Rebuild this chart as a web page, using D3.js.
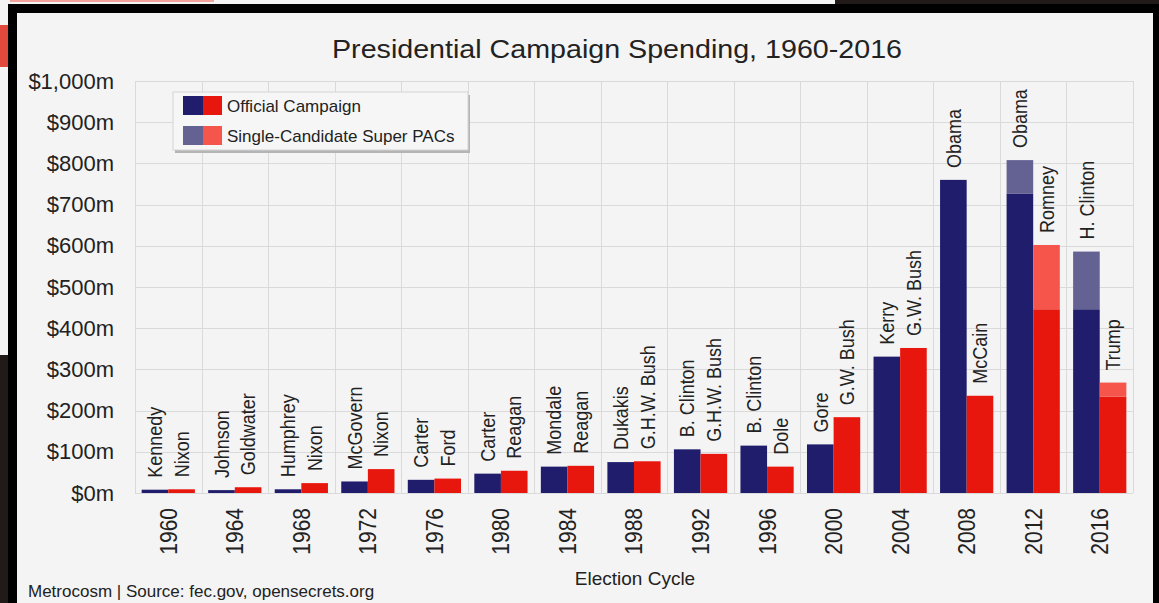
<!DOCTYPE html>
<html lang="en">
<head>
<meta charset="utf-8">
<title>Presidential Campaign Spending, 1960-2016</title>
<script src="https://cdn.jsdelivr.net/npm/d3@7"></script>
<style>
  body { margin: 0; background: #1b1513; }
  svg { display: block; }
  text { font-family: "Liberation Sans", Arial, Helvetica, sans-serif; fill: #222; }
</style>
</head>
<body>
<script>

// election years and candidates (Democrat first, Republican second)
var years = ["1960", "1964", "1968", "1972", "1976", "1980", "1984", "1988",
             "1992", "1996", "2000", "2004", "2008", "2012", "2016"];
var demNames = ["Kennedy", "Johnson", "Humphrey", "McGovern", "Carter", "Carter", "Mondale", "Dukakis",
                "B. Clinton", "B. Clinton", "Gore", "Kerry", "Obama", "Obama", "H. Clinton"];
var repNames = ["Nixon", "Goldwater", "Nixon", "Nixon", "Ford", "Reagan", "Reagan", "G.H.W. Bush",
                "G.H.W. Bush", "Dole", "G.W. Bush", "G.W. Bush", "McCain", "Romney", "Trump"];

// spending in $ millions
var demOfficial = [8, 7, 9, 28, 32, 47, 64, 75, 106, 115, 118, 331, 760, 727, 446];
var demSuperPac = [0, 0, 0, 0, 0, 0, 0, 0, 0, 0, 0, 0, 0, 81, 140];
var repOfficial = [9, 14, 24, 58, 35, 54, 66, 77, 95, 64, 184, 352, 236, 446, 234];
var repSuperPac = [0, 0, 0, 0, 0, 0, 0, 0, 0, 0, 0, 0, 0, 156, 34];

var yTicks = [0, 100, 200, 300, 400, 500, 600, 700, 800, 900, 1000];
var seriesLabels = ["Official Campaign", "Single-Candidate Super PACs"];

var colors = {
  D: { official: "#201e6c", pac: "#646193" },
  R: { official: "#e8170d", pac: "#f5554b" }
};

var w = 1159;
var h = 603;
var plotLeft = 135, plotRight = 1133, plotTop = 81, plotBottom = 493;

var rows = [];
years.forEach(function(y, i) {
  rows.push({ year: y, party: "D", name: demNames[i], official: demOfficial[i], pac: demSuperPac[i] });
  rows.push({ year: y, party: "R", name: repNames[i], official: repOfficial[i], pac: repSuperPac[i] });
});

var svg = d3.select("body").append("svg")
  .attr("width", w)
  .attr("height", h);

// surroundings of the photographed screen
svg.append("rect").attr("x", 0).attr("y", 0).attr("width", w).attr("height", h).attr("fill", "#221a18");
svg.append("rect").attr("x", 0).attr("y", 0).attr("width", 835).attr("height", 6).attr("fill", "#f4f4f4");
svg.append("rect").attr("x", 0).attr("y", 0).attr("width", 214).attr("height", 2).attr("fill", "#f2a49c");
svg.append("rect").attr("x", 0).attr("y", 0).attr("width", 10).attr("height", 355).attr("fill", "#f4f4f4");
svg.append("rect").attr("x", 0).attr("y", 25).attr("width", 10).attr("height", 42).attr("fill", "#e0493c");
svg.append("rect").attr("x", 8).attr("y", 4).attr("width", w - 8).attr("height", h - 4).attr("fill", "#000");
svg.append("rect").attr("x", 17).attr("y", 13).attr("width", 1136).attr("height", h - 13).attr("fill", "#f4f4f4");

var xScale = d3.scaleBand()
  .domain(years)
  .range([plotLeft, plotRight])
  .paddingInner(0)
  .paddingOuter(0);

var xParty = d3.scaleBand()
  .domain(["D", "R"])
  .range([0, xScale.bandwidth()])
  .paddingInner(0)
  .paddingOuter(0.25);

var yScale = d3.scaleLinear()
  .domain([0, 1000])
  .range([plotBottom, plotTop]);

// grid
var grid = svg.append("g").attr("stroke", "#dadada").attr("stroke-width", 1);
grid.selectAll("line.h")
  .data(yTicks)
  .enter()
  .append("line")
  .attr("class", "h")
  .attr("x1", plotLeft)
  .attr("x2", plotRight)
  .attr("y1", function(d) { return Math.round(yScale(d)) + 0.5; })
  .attr("y2", function(d) { return Math.round(yScale(d)) + 0.5; });

var edges = years.map(function(y) { return xScale(y); }).concat([plotRight]);
grid.selectAll("line.v")
  .data(edges)
  .enter()
  .append("line")
  .attr("class", "v")
  .attr("x1", function(d) { return Math.round(d) + 0.5; })
  .attr("x2", function(d) { return Math.round(d) + 0.5; })
  .attr("y1", plotTop)
  .attr("y2", plotBottom);

// Y axis
var yAxis = d3.axisLeft(yScale)
  .tickValues(yTicks)
  .tickSize(0)
  .tickPadding(21)
  .tickFormat(function(d) { return "$" + d3.format(",")(d) + "m"; });

svg.append("g")
  .attr("transform", "translate(" + plotLeft + ",0)")
  .call(yAxis)
  .call(function(g) { g.select(".domain").remove(); })
  .selectAll("text")
  .attr("font-size", "22px")
  .attr("font-family", "\"Liberation Sans\", Arial, sans-serif")
  .attr("fill", "#1a1a1a");

// bars
var groups = svg.selectAll("g.cand")
  .data(rows)
  .enter()
  .append("g")
  .attr("class", "cand")
  .attr("transform", function(d) { return "translate(" + (xScale(d.year) + xParty(d.party)) + ",0)"; });

groups.append("rect")
  .attr("x", 0)
  .attr("width", xParty.bandwidth())
  .attr("y", function(d) { return yScale(d.official); })
  .attr("height", function(d) { return yScale(0) - yScale(d.official); })
  .attr("fill", function(d) { return colors[d.party].official; });

groups.filter(function(d) { return d.pac > 0; })
  .append("rect")
  .attr("x", 0)
  .attr("width", xParty.bandwidth())
  .attr("y", function(d) { return yScale(d.official + d.pac); })
  .attr("height", function(d) { return yScale(d.official) - yScale(d.official + d.pac); })
  .attr("fill", function(d) { return colors[d.party].pac; });

// candidate names above bars
groups.append("text")
  .attr("transform", function(d) {
    return "translate(" + (xParty.bandwidth() / 2) + "," + (yScale(d.official + d.pac) - 12) + ") scale(1.15,1) rotate(-90)";
  })
  .attr("dy", "0.35em")
  .attr("text-anchor", "start")
  .attr("font-size", "18px")
  .text(function(d) { return d.name; });

// year labels
svg.selectAll("text.year")
  .data(years)
  .enter()
  .append("text")
  .attr("class", "year")
  .attr("transform", function(d) {
    return "translate(" + (xScale(d) + xScale.bandwidth() / 2) + "," + 508 + ") scale(1.15,1) rotate(-90)";
  })
  .attr("dy", "0.35em")
  .attr("text-anchor", "end")
  .attr("font-size", "21px")
  .attr("fill", "#1a1a1a")
  .text(function(d) { return d; });

// title
svg.append("text")
  .attr("x", 617)
  .attr("y", 58)
  .attr("text-anchor", "middle")
  .attr("font-size", "26px")
  .attr("textLength", 570)
  .attr("lengthAdjust", "spacingAndGlyphs")
  .text("Presidential Campaign Spending, 1960-2016");

// axis title
svg.append("text")
  .attr("x", 635)
  .attr("y", 585)
  .attr("text-anchor", "middle")
  .attr("font-size", "19px")
  .text("Election Cycle");

// source note
svg.append("text")
  .attr("x", 28)
  .attr("y", 597)
  .attr("font-size", "17px")
  .text("Metrocosm | Source: fec.gov, opensecrets.org");

// legend
var legend = svg.append("g").attr("transform", "translate(173,92)");
legend.append("rect")
  .attr("x", 2).attr("y", 3).attr("width", 295).attr("height", 58)
  .attr("fill", "#b5b5b5");
legend.append("rect")
  .attr("width", 295).attr("height", 58)
  .attr("fill", "#f6f6f6")
  .attr("stroke", "#d4d4d4");

var keys = ["official", "pac"];
var items = legend.selectAll("g.item")
  .data(keys)
  .enter()
  .append("g")
  .attr("class", "item")
  .attr("transform", function(d, i) { return "translate(10," + (4 + i * 30) + ")"; });

items.append("rect")
  .attr("width", 20).attr("height", 19)
  .attr("fill", function(d) { return colors.D[d]; });
items.append("rect")
  .attr("x", 20).attr("width", 19).attr("height", 19)
  .attr("fill", function(d) { return colors.R[d]; });
items.append("text")
  .attr("x", 44)
  .attr("y", 16)
  .attr("font-size", "17px")
  .text(function(d, i) { return seriesLabels[i]; });

</script>
</body>
</html>
